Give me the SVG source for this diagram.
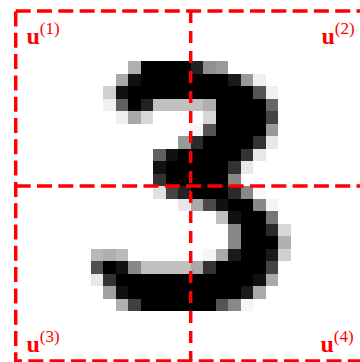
<svg xmlns="http://www.w3.org/2000/svg" width="360" height="362" viewBox="0 0 360 362">
<style>
.lab{font-family:"Liberation Serif","DejaVu Serif",serif;font-size:24px;fill:#ff0000}
.u{font-weight:bold}
.sup{font-size:17px}
.dash{fill:none;stroke:#ff0000;stroke-width:3.5;stroke-dasharray:15 6.3}
.mid{fill:none;stroke:#ff0000;stroke-width:3.5;stroke-dasharray:12 8}
</style>
<rect width="360" height="362" fill="#ffffff"/>
<g id="digit" transform="translate(15.7 11) scale(12.5)" shape-rendering="crispEdges">
<rect x="9" y="4" width="1" height="1" fill="#b0b0b0"/><rect x="10" y="4" width="4" height="1" fill="#000"/><rect x="14" y="4" width="1" height="1" fill="#222"/><rect x="15" y="4" width="1" height="1" fill="#909090"/><rect x="16" y="4" width="1" height="1" fill="#999"/>
<rect x="8" y="5" width="1" height="1" fill="#a8a8a8"/><rect x="9" y="5" width="1" height="1" fill="#111"/><rect x="10" y="5" width="7" height="1" fill="#000"/><rect x="17" y="5" width="1" height="1" fill="#1a1a1a"/><rect x="18" y="5" width="1" height="1" fill="#999"/><rect x="19" y="5" width="1" height="1" fill="#f0f0f0"/>
<rect x="7" y="6" width="1" height="1" fill="#d0d0d0"/><rect x="8" y="6" width="1" height="1" fill="#111"/><rect x="9" y="6" width="10" height="1" fill="#000"/><rect x="19" y="6" width="1" height="1" fill="#555"/><rect x="20" y="6" width="1" height="1" fill="#f0f0f0"/>
<rect x="7" y="7" width="1" height="1" fill="#f0f0f0"/><rect x="8" y="7" width="1" height="1" fill="#606060"/><rect x="9" y="7" width="1" height="1" fill="#000"/><rect x="10" y="7" width="1" height="1" fill="#222"/><rect x="11" y="7" width="4" height="1" fill="#c0c0c0"/><rect x="15" y="7" width="1" height="1" fill="#b0b0b0"/><rect x="16" y="7" width="4" height="1" fill="#000"/><rect x="20" y="7" width="1" height="1" fill="#666"/>
<rect x="8" y="8" width="1" height="1" fill="#f0f0f0"/><rect x="9" y="8" width="1" height="1" fill="#a8a8a8"/><rect x="10" y="8" width="1" height="1" fill="#d8d8d8"/><rect x="15" y="8" width="1" height="1" fill="#d8d8d8"/><rect x="16" y="8" width="4" height="1" fill="#000"/><rect x="20" y="8" width="1" height="1" fill="#444"/>
<rect x="14" y="9" width="1" height="1" fill="#f5f5f5"/><rect x="15" y="9" width="1" height="1" fill="#555"/><rect x="16" y="9" width="4" height="1" fill="#000"/><rect x="20" y="9" width="1" height="1" fill="#999"/>
<rect x="13" y="10" width="1" height="1" fill="#999"/><rect x="14" y="10" width="1" height="1" fill="#2a2a2a"/><rect x="15" y="10" width="4" height="1" fill="#000"/><rect x="19" y="10" width="1" height="1" fill="#333"/><rect x="20" y="10" width="1" height="1" fill="#e8e8e8"/>
<rect x="11" y="11" width="1" height="1" fill="#606060"/><rect x="12" y="11" width="1" height="1" fill="#111"/><rect x="13" y="11" width="5" height="1" fill="#000"/><rect x="18" y="11" width="1" height="1" fill="#333"/><rect x="19" y="11" width="1" height="1" fill="#e8e8e8"/>
<rect x="11" y="12" width="1" height="1" fill="#111"/><rect x="12" y="12" width="5" height="1" fill="#000"/><rect x="17" y="12" width="1" height="1" fill="#333"/><rect x="18" y="12" width="1" height="1" fill="#e8e8e8"/>
<rect x="11" y="13" width="1" height="1" fill="#333"/><rect x="12" y="13" width="5" height="1" fill="#000"/><rect x="17" y="13" width="1" height="1" fill="#888"/>
<rect x="11" y="14" width="1" height="1" fill="#e0e0e0"/><rect x="12" y="14" width="1" height="1" fill="#444"/><rect x="13" y="14" width="1" height="1" fill="#222"/><rect x="14" y="14" width="3" height="1" fill="#000"/><rect x="17" y="14" width="1" height="1" fill="#2a2a2a"/><rect x="18" y="14" width="1" height="1" fill="#888"/><rect x="19" y="14" width="1" height="1" fill="#f8f8f8"/>
<rect x="13" y="15" width="1" height="1" fill="#e8e8e8"/><rect x="14" y="15" width="1" height="1" fill="#aaa"/><rect x="15" y="15" width="1" height="1" fill="#4a4a4a"/><rect x="16" y="15" width="1" height="1" fill="#111"/><rect x="17" y="15" width="2" height="1" fill="#000"/><rect x="19" y="15" width="1" height="1" fill="#888"/><rect x="20" y="15" width="1" height="1" fill="#f5f5f5"/>
<rect x="16" y="16" width="1" height="1" fill="#c0c0c0"/><rect x="17" y="16" width="1" height="1" fill="#111"/><rect x="18" y="16" width="2" height="1" fill="#000"/><rect x="20" y="16" width="1" height="1" fill="#777"/>
<rect x="17" y="17" width="1" height="1" fill="#888"/><rect x="18" y="17" width="2" height="1" fill="#000"/><rect x="20" y="17" width="1" height="1" fill="#2a2a2a"/><rect x="21" y="17" width="1" height="1" fill="#d8d8d8"/>
<rect x="17" y="18" width="1" height="1" fill="#888"/><rect x="18" y="18" width="3" height="1" fill="#000"/><rect x="21" y="18" width="1" height="1" fill="#b0b0b0"/>
<rect x="6" y="19" width="1" height="1" fill="#b8b8b8"/><rect x="7" y="19" width="1" height="1" fill="#b0b0b0"/><rect x="8" y="19" width="1" height="1" fill="#bbb"/><rect x="15" y="19" width="1" height="1" fill="#f5f5f5"/><rect x="16" y="19" width="1" height="1" fill="#aaa"/><rect x="17" y="19" width="1" height="1" fill="#1a1a1a"/><rect x="18" y="19" width="2" height="1" fill="#000"/><rect x="20" y="19" width="1" height="1" fill="#1a1a1a"/><rect x="21" y="19" width="1" height="1" fill="#d0d0d0"/>
<rect x="6" y="20" width="1" height="1" fill="#505050"/><rect x="7" y="20" width="1" height="1" fill="#000"/><rect x="8" y="20" width="1" height="1" fill="#111"/><rect x="9" y="20" width="1" height="1" fill="#888"/><rect x="10" y="20" width="4" height="1" fill="#c0c0c0"/><rect x="14" y="20" width="1" height="1" fill="#aaa"/><rect x="15" y="20" width="1" height="1" fill="#333"/><rect x="16" y="20" width="4" height="1" fill="#000"/><rect x="20" y="20" width="1" height="1" fill="#444"/>
<rect x="6" y="21" width="1" height="1" fill="#e8e8e8"/><rect x="7" y="21" width="1" height="1" fill="#333"/><rect x="8" y="21" width="11" height="1" fill="#000"/><rect x="19" y="21" width="1" height="1" fill="#111"/><rect x="20" y="21" width="1" height="1" fill="#aaa"/>
<rect x="7" y="22" width="1" height="1" fill="#a0a0a0"/><rect x="8" y="22" width="1" height="1" fill="#111"/><rect x="9" y="22" width="9" height="1" fill="#000"/><rect x="18" y="22" width="1" height="1" fill="#1a1a1a"/><rect x="19" y="22" width="1" height="1" fill="#aaa"/>
<rect x="8" y="23" width="1" height="1" fill="#b0b0b0"/><rect x="9" y="23" width="1" height="1" fill="#404040"/><rect x="10" y="23" width="6" height="1" fill="#000"/><rect x="16" y="23" width="1" height="1" fill="#555"/><rect x="17" y="23" width="1" height="1" fill="#888"/><rect x="18" y="23" width="1" height="1" fill="#f5f5f5"/>
</g>
<g id="grid">
<rect class="dash" x="15.7" y="11" width="350" height="350"/>
<line class="mid" x1="190.7" y1="11" x2="190.7" y2="361"/>
<line class="dash" x1="15.7" y1="186" x2="365.7" y2="186"/>
</g>
<g id="u1"><text class="lab" x="26.5" y="44"><tspan class="u">u</tspan><tspan class="sup" dy="-10">(1)</tspan></text></g>
<g id="u2"><text class="lab" x="321.5" y="44"><tspan class="u">u</tspan><tspan class="sup" dy="-10">(2)</tspan></text></g>
<g id="u3"><text class="lab" x="26.5" y="351.5"><tspan class="u">u</tspan><tspan class="sup" dy="-10">(3)</tspan></text></g>
<g id="u4"><text class="lab" x="320.5" y="351.5"><tspan class="u">u</tspan><tspan class="sup" dy="-10">(4)</tspan></text></g>
</svg>
